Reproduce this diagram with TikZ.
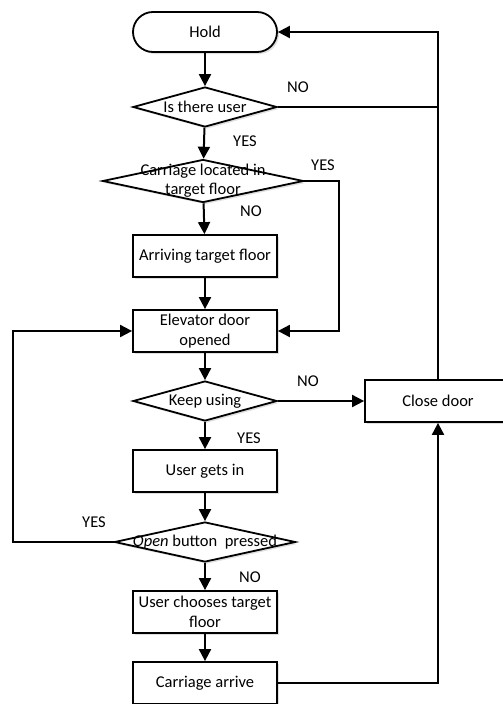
\documentclass[tikz,border=0pt]{standalone}
\usepackage{fontspec}
\setmainfont{Carlito}
\usetikzlibrary{arrows.meta,positioning,shapes,shadows}
\tikzset{
  base/.style={draw, line width=1.8pt, fill=white, font=\fontsize{16.5}{20}\selectfont,
    drop shadow={shadow xshift=2pt, shadow yshift=-2pt, opacity=0.25}},
  term/.style={base, rounded corners=20pt, minimum width=144pt, minimum height=40pt},
  proc/.style={base, minimum width=144pt, minimum height=42pt, align=center, inner sep=1pt},
  dec/.style={base, diamond, inner sep=0pt},
  arr/.style={line width=2pt, -{Triangle[length=12pt,width=12pt]}},
  ln/.style={line width=2pt},
  lab/.style={font=\fontsize{16.5}{20}\selectfont}
}
\begin{document}
\begin{tikzpicture}[x=1pt,y=-1pt]
    \path[use as bounding box, clip] (0,0) rectangle (503,704);
    % main column
    \node[term] (hold) at (205,32) {Hold};
    \node[dec, minimum width=144pt, minimum height=40pt, label={[lab]center:Is there user}] (q1) at (205,107) {};
    \node[dec, minimum width=201pt, minimum height=43pt,
          label={[lab, align=center, font=\fontsize{16.5}{19}\selectfont]center:Carriage located in\\target floor}] (q2) at (203,181) {};
    \node[proc] (arrive) at (205,256) {Arriving target floor};
    \node[proc] (opened) at (205,331) {Elevator door\\opened};
    \node[dec, minimum width=144pt, minimum height=40pt, label={[lab]center:Keep using}] (q3) at (205,401) {};
    \node[proc, minimum width=146pt] (close) at (438,401) {Close door};
    \node[proc] (getin) at (205,471) {User gets in};
    \node[dec, minimum width=181pt, minimum height=40pt,
          label={[lab]center:\textit{Open} button\ \ pressed}] (q4) at (205,542) {};
    \node[proc] (choose) at (205,612) {User chooses target\\floor};
    \node[proc] (carr) at (205,683) {Carriage arrive};
    % corner points
    \coordinate (c1) at (339,181);
    \coordinate (c2) at (13,542);
    % connectors
    \draw[arr] (hold) -- (q1);
    \draw[arr] (q1) -- (q2);
    \draw[arr] (q2) -- (arrive);
    \draw[arr] (arrive) -- (opened);
    \draw[arr] (opened) -- (q3);
    \draw[arr] (q3) -- (getin);
    \draw[arr] (getin) -- (q4);
    \draw[arr] (q4) -- (choose);
    \draw[arr] (choose) -- (carr);
    \draw[arr] (q2.east) -- (c1) |- (opened.east);
    \draw[arr] (q3.east) -- (close.west);
    \draw[arr] (q4.west) -- (c2) |- (opened.west);
    \draw[arr] (carr.east) -| (close.south);
    \draw[arr] (close.north) |- (hold.east);
    \draw[ln] (q1.east) -- (close.north |- q1.east);
    % labels
    \node[lab] (no1) at (298,87) {NO};
    \node[lab] (yes1) at (245,141) {YES};
    \node[lab] (yes2) at (323,165) {YES};
    \node[lab] (no2) at (251,211) {NO};
    \node[lab] (no3) at (308,381) {NO};
    \node[lab] (yes3) at (249,438) {YES};
    \node[lab] (yes4) at (94,522) {YES};
    \node[lab] (no4) at (250,577) {NO};
\end{tikzpicture}
\end{document}
